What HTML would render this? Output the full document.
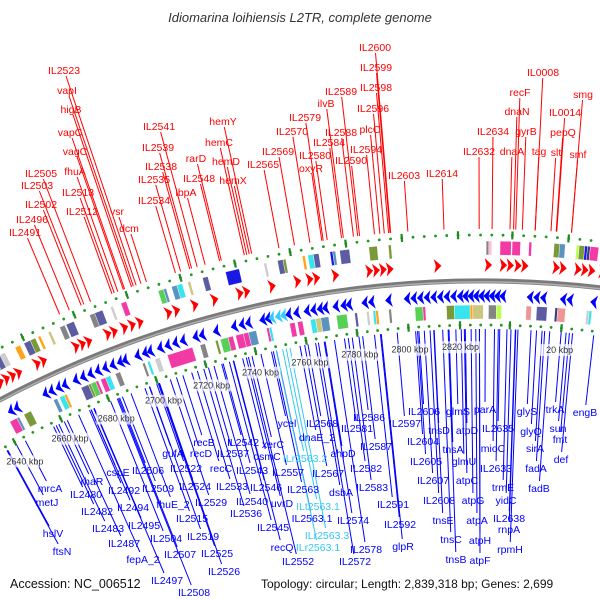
<!DOCTYPE html>
<html><head><meta charset="utf-8"><style>
html,body{margin:0;padding:0;background:#fff;}
svg{display:block;font-family:"Liberation Sans",sans-serif;}
</style></head><body>
<svg id="map" width="600" height="600" viewBox="0 0 600 600" xmlns="http://www.w3.org/2000/svg">
<rect width="600" height="600" fill="#fff"/>
<text x="300" y="22" text-anchor="middle" font-size="13" font-style="italic" fill="#333">Idiomarina loihiensis L2TR, complete genome</text>
<g id="lines"></g><g id="rings"></g><g id="genes"></g><g id="labels"></g>
<text x="10" y="588" font-size="12.5" fill="#111">Accession: NC_006512</text>
<text x="261" y="588" font-size="12" fill="#111">Topology: circular; Length: 2,839,318 bp; Genes: 2,699</text>
</svg>
<script>
// genome data (kbp)
const GENOME_KBP = 2839.318;
const GENE_LEN = 2.7;
const fwdStart = [2642,2644.5,2647,2649.5,2652,2659.5,2662,2675,2677.5,2680,2687.5,2690,2694,2697,2700,2711,2714,2721,2728.5,2738,2740.5,2750,2759.5,2764,2766.5,2773.5,2786,2788.5,2791,2793.5,2811,2829.5,2835,2837.5,1,3.5,15,17.5,23,25.5,28,32];
const revStart = [2643,2645.5,2657.5,2660,2663,2665.5,2670,2673,2676,2679,2682,2685,2688,2690,2695,2698,2700,2704,2707,2710,2713,2718,2720.5,2726,2733,2736,2738.5,2744,2746,2754,2757,2761,2763.5,2766,2768,2772,2775,2777,2783,2785.5,2792,2799,2801.5,2804,2806.5,2809,2811.5,2814,2816.5,2819,2821,2823,2825,2827,2829,2831,2833,2835,6,8.5,11,18.5,21,30];
const rnaStart = [2747.5,2750,2752];
const fwdBoxStart = [2642,2644,2646,2648,2650,2656,2659.5,2662,2665,2669,2673.5,2676,2685,2687,2693,2697,2711,2713,2716,2718,2722,2727.5,2736,2750,2755,2757,2764,2766,2768,2774,2775,2777.5,2788,2795,2830,2831,2835,0,6,15,17,23,24,26,27,28,33];
const fwdBoxEnd   = [2644,2646,2648,2650,2652,2658,2662,2664,2666,2670,2675.5,2679,2687,2690,2694,2699,2713,2714,2718,2720,2723,2729.5,2741,2751,2757,2758,2765,2768,2770,2775,2776,2781,2791,2796,2831,2832,2839,3,7,17,19,24,26,27,28,31,34];
const fwdBoxColor = "YTGSLRSORKGSGSLMNTTCKSBLSORCSBTSOOGPMMMOTYOBVMC";
const revBoxStart = [2642,2645,2648,2660.5,2663,2665,2672,2675,2676,2678,2680,2682,2686,2697,2699,2702,2707,2720,2726,2728,2731,2734,2737,2739,2746,2747,2755,2758,2763,2765,2767,2773,2780,2784.5,2787,2788,2793,2803,2806,2815,2818,2824,2825,2831,2834,6,10,17,18,29,30];
const revBoxEnd   = [2645,2646,2651,2662,2665,2666,2675,2676,2678,2679,2682,2684,2688,2698,2700,2704,2717,2722,2727,2731,2733,2737,2739,2742,2747,2748,2757,2760,2765,2767,2770,2777,2781,2785.5,2788,2789,2794,2806,2807,2818,2824,2825,2829,2834,2836,8,14,18,21,30,31];
const revBoxColor = "MTOTCRSONMMCGGCLMGONMMMTMCMMCKTNSLCRGNMOCRKGYASVALC";
const majorTicks = [2640,2660,2680,2700,2720,2740,2760,2780,2800,2820,0,20];
const tickLabels = ["2640 kbp","2660 kbp","2680 kbp","2700 kbp","2720 kbp","2740 kbp","2760 kbp","2780 kbp","2800 kbp","2820 kbp","","20 kbp"];
// feature labels: name, label x, label y (centre)
const fwdLabels = [["IL2523",64,70],["vapI",67,90],["higB",71,109],["vapC",70,132],["vagC",75,151],["fhuA",75,171],["IL2505",41,173],["IL2503",37,185],["IL2513",78,192],["IL2502",41,204],["IL2512",82,211],["vsr",117,211],["IL2496",32,219],["IL2491",25,232],["dcm",129,228],["IL2541",159,126],["IL2539",158,147],["IL2538",161,166],["IL2535",154,179],["IL2534",154,200],["ibpA",186,192],["rarD",196,158],["IL2548",199,178],["hemY",223,121],["hemC",219,142],["hemD",226,161],["hemX",233,180],["IL2565",263,164],["IL2570",292,131],["IL2569",278,151],["IL2579",305,117],["ilvB",326,103],["IL2589",341,91],["IL2588",341,132],["IL2584",329,142],["IL2580",315,155],["oxyR",311,168],["IL2590",351,160],["IL2594",366,149],["IL2596",373,108],["plcC",370,129],["IL2598",376,87],["IL2599",376,67],["IL2600",375,47],["IL2603",404,175],["IL2614",442,173],["IL2634",493,131],["IL2632",479,151],["recF",520,92],["dnaN",517,111],["gyrB",526,131],["dnaA",512,151],["tag",539,151],["IL0008",543,72],["IL0014",565,112],["pepQ",563,132],["slt",556,152],["smg",583,94],["smf",578,154]];
const revLabels = [["mrcA",50,488],["metJ",47,502],["hslV",53,533],["ftsN",62,551],["rhaR",92,481],["IL2480",86,494],["IL2482",97,511],["IL2483",108,528],["IL2487",124,543],["cspE",118,472],["IL2492",124,490],["IL2494",133,507],["IL2495",144,525],["fepA_2",143,559],["IL2506",148,470],["IL2509",158,488],["fhuE_2",173,504],["IL2504",166,538],["IL2507",180,554],["IL2497",167,580],["IL2508",194,592],["gufA",173,453],["recB",204,442],["recD",201,453],["IL2522",186,468],["IL2524",195,486],["IL2529",211,502],["IL2515",192,518],["IL2519",203,536],["IL2525",217,553],["IL2526",224,571],["IL2542",243,442],["IL2537",233,453],["recC",221,468],["IL2543",252,470],["IL2533",232,486],["IL2546",266,487],["IL2540",252,501],["IL2536",246,513],["IL2545",273,527],["xerC",273,444],["osmC",267,456],["uvrD",282,503],["recQ",282,547],["ycel",287,423],["IL2557",288,472],["IL2552",298,561],["IL2563",303,489],["IL2568",322,423],["dnaE_2",317,437],["ahpD",343,453],["IL2567",328,473],["dsbA",341,492],["IL2574",353,520],["IL2578",366,549],["IL2572",355,561],["IL2563.1",312,518],["IL2581",357,428],["IL2586",369,417],["IL2587",376,446],["IL2582",366,468],["IL2583",372,487],["IL2591",393,504],["IL2592",400,524],["glpR",403,546],["IL2597",405,423],["IL2606",424,411],["IL2604",423,441],["IL2605",426,461],["IL2607",433,480],["IL2608",439,500],["tnsD",439,430],["tnsA",453,449],["tnsE",443,520],["tnsC",451,539],["tnsB",456,559],["glmS",458,411],["atpD",467,430],["glmU",464,461],["atpC",467,480],["atpG",473,500],["atpA",477,520],["atpH",480,540],["atpF",480,560],["parA",485,409],["IL2635",498,428],["mioC",493,448],["IL2633",496,468],["trmE",503,487],["yidC",506,500],["IL2638",509,518],["rnpA",509,529],["rpmH",510,549],["glyS",527,411],["glyQ",531,431],["sirA",535,448],["fadA",536,468],["fadB",539,488],["trkA",555,409],["sun",558,428],["fmt",560,439],["def",561,459],["engB",585,412]];
const rnaLabels = [["ILr2563.2",305,458],["ILt2563.1",318,506],["ILr2563.3",327,535],["ILr2563.1",318,547]];

const NS="http://www.w3.org/2000/svg";
const CX=482, CY=1318, R=1037, RAD_PER_KBP=0.0026, ORIGIN_OFF=10.8;
const COLORS={M:"#f0259c",S:"#4a4a96",G:"#787878",N:"#44cc44",O:"#6b8e23",C:"#22e2ea",T:"#4a86b8",R:"#ff9900",L:"#c8c8c8",P:"#ffb0d0",A:"#ee8a8a",V:"#222277",B:"#0000e0",K:"#c8c070",Y:"#b0ff40"};
function ang(k){const kp=k>GENOME_KBP/2?k-GENOME_KBP:k;return (kp+ORIGIN_OFF)*RAD_PER_KBP;}
function pt(k,r){const a=ang(k);return [CX+r*Math.sin(a),CY-r*Math.cos(a)];}
function P(p){return p[0].toFixed(2)+","+p[1].toFixed(2);}
function mk(tag,parent){const e=document.createElementNS(NS,tag);document.getElementById(parent).appendChild(e);return e;}

// backbone
(function(){
 const a=pt(2620,R),b=pt(45,R);
 const e=mk("path","rings");
 
 
 e.setAttribute("d",`M${P(a)} A${R},${R} 0 0 1 ${P(b)}`);e.setAttribute("stroke","#7a7a7a");e.setAttribute("stroke-width","5");e.setAttribute("fill","none");
 const e2=mk("path","rings");
 
 
 const a2=pt(2620,R-1),b2=pt(45,R-1);
 e2.setAttribute("d",`M${P(a2)} A${R-1},${R-1} 0 0 1 ${P(b2)}`);e2.setAttribute("stroke","#b0b0b0");e2.setAttribute("stroke-width","1.5");e2.setAttribute("fill","none");
})();
// dotted rings
[R+46,R-44].forEach(function(rr,ri){
 for(let k=2624;k<=2880;k+=4){
  const kk=k>GENOME_KBP?k-2840:k;
  const p=pt(kk,rr);
  const c=mk("circle","rings");
  
  
  c.setAttribute("cx",p[0]);c.setAttribute("cy",p[1]);c.setAttribute("r","1.4");c.setAttribute("fill","#229922");
 }
 majorTicks.forEach(function(k){
  const l=mk("line","rings");
  
  
  const p1=pt(k,rr-4),p2=pt(k,rr+4);
  l.setAttribute("x1",p1[0]);l.setAttribute("y1",p1[1]);l.setAttribute("x2",p2[0]);l.setAttribute("y2",p2[1]);l.setAttribute("stroke","#1f8a1f");l.setAttribute("stroke-width","2.2");
 });
});
// tick labels
majorTicks.forEach(function(k,i){
 if(!tickLabels[i])return;
 const p=pt(k,R-66);
 const bg=mk("rect","labels");
 
 
 bg.setAttribute("x",p[0]-20);bg.setAttribute("y",p[1]-6);bg.setAttribute("width","40");bg.setAttribute("height","12");bg.setAttribute("fill","#fff");bg.setAttribute("opacity","0.7");
 const t=mk("text","labels");
 
 
 t.setAttribute("x",p[0]);t.setAttribute("y",p[1]+3);t.setAttribute("text-anchor","middle");t.setAttribute("font-size","9");t.setAttribute("fill","#333");t.textContent=tickLabels[i];
});
// boxes
function boxes(starts,ends,cols,rr,name){
 starts.forEach(function(s,i){
  const e=ends[i];
  const poly=mk("polygon","genes");
  
  
  poly.setAttribute("points",[pt(s,rr-7),pt(e,rr-7),pt(e,rr+7),pt(s,rr+7)].map(P).join(" "));
  poly.setAttribute("fill",COLORS[cols[i]]||"#888");poly.setAttribute("fill-opacity","0.9");poly.setAttribute("stroke","#fff");poly.setAttribute("stroke-width","0.4");
 });
}
boxes(fwdBoxStart,fwdBoxEnd,fwdBoxColor,R+33,'forward-feature-box');
boxes(revBoxStart,revBoxEnd,revBoxColor,R-31,'reverse-feature-box');
// arrows
function arrows(starts,rr,dir,color,name){
 starts.forEach(function(s){
  const e=s+GENE_LEN;const h=7;
  let pts;
  if(dir>0) pts=[pt(s,rr-h),pt(e,rr),pt(s,rr+h),pt(s+GENE_LEN*0.25,rr)];
  else pts=[pt(e,rr-h),pt(s,rr),pt(e,rr+h),pt(e-GENE_LEN*0.25,rr)];
  const poly=mk("polygon","genes");
  
  
  poly.setAttribute("points",pts.map(P).join(" "));poly.setAttribute("fill",color);
 });
}
arrows(fwdStart,R+16,1,"#ff0000",'forward-gene');
arrows(revStart,R-15,-1,"#0000ff",'reverse-gene');
arrows(rnaStart,R-15,-1,"#33ccff",'rna-gene');
// feature labels with radial connector lines
function flabels(list,color,outer,name){
 list.forEach(function(d){
  const x=d[1],y=d[2];
  const dx=x-CX,dy=y-CY,len=Math.hypot(dx,dy);
  const rr=outer?R+52:R-48;
  const px=CX+dx/len*rr,py=CY+dy/len*rr;
  const ly=outer?y+6:y-7;
  const l=mk("line","lines");
  
  
  l.setAttribute("x1",px);l.setAttribute("y1",py);l.setAttribute("x2",x+(ly-y)*dx/dy);l.setAttribute("y2",ly);l.setAttribute("stroke",color);l.setAttribute("stroke-width","1");
  const t=mk("text","labels");
  
  
  t.setAttribute("x",x);t.setAttribute("y",y+4);t.setAttribute("text-anchor","middle");t.setAttribute("font-size","10.5");t.setAttribute("fill",color);t.textContent=d[0];
 });
}
flabels(fwdLabels,"#ff0000",true,'forward-gene-label');
flabels(revLabels,"#0000ff",false,'reverse-gene-label');
flabels(rnaLabels,"#33c8f5",false,'rna-gene-label');
</script>
</body></html>
